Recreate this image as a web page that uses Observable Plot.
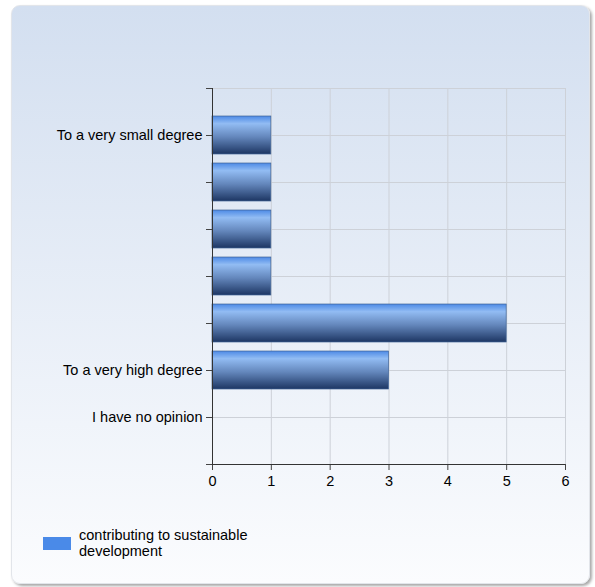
<!DOCTYPE html>
<html><head><meta charset="utf-8">
<script src="https://cdn.jsdelivr.net/npm/d3@7"></script>
<script src="https://cdn.jsdelivr.net/npm/@observablehq/plot@0.6"></script>
<style>
body{margin:0;width:595px;height:587px;overflow:hidden;background:#fff;font-family:"Liberation Sans",Arial,sans-serif;}
#panel{position:absolute;left:11px;top:5px;width:577px;height:577px;border-radius:9px;background:linear-gradient(#d3dff0,#fbfcfe);border:1px solid #e2e5ea;box-shadow:2px 2px 3px rgba(0,0,0,0.35);}
#chart{position:absolute;left:0;top:0;}
#legend{position:absolute;left:43px;top:527px;display:flex;align-items:center;font-size:14.5px;line-height:16px;color:#000;}
#legend .sw{width:28px;height:13px;background:#4a8ae8;margin-right:8px;}
</style></head>
<body>
<div id="panel"></div>
<div id="chart"></div>
<div id="legend"><div class="sw"></div><div id="legtext"></div></div>
<script>
const categories = ["To a very small degree", "", "", "", "", "To a very high degree", "I have no opinion"];
const values = [1, 1, 1, 1, 5, 3, 0];
const xTicks = [0, 1, 2, 3, 4, 5, 6];
const seriesName = ["contributing to sustainable", "development"];

const data = categories.map((c, i) => ({pos: i + 1, label: c, value: values[i]}));
const yTicks = d3.range(0, categories.length + 2);

const chart = Plot.plot({
  width: 595, height: 587,
  marginLeft: 212, marginRight: 30, marginTop: 88, marginBottom: 123,
  style: {background: "transparent", fontFamily: "'Liberation Sans', Arial, sans-serif", fontSize: "14.5px", color: "#000"},
  x: {domain: [0, 6]},
  y: {domain: [0, categories.length + 1], reverse: true},
  marks: [
    Plot.gridX(xTicks, {stroke: "#cdd1d8", strokeOpacity: 1}),
    Plot.gridY(yTicks, {stroke: "#cdd1d8", strokeOpacity: 1}),
    Plot.rect(data.filter(d => d.value > 0), {
      x1: 0, x2: "value",
      y1: d => d.pos - 0.404, y2: d => d.pos + 0.404,
      fill: "url(#barGrad)", stroke: "#3f6396", strokeWidth: 0.7
    }),
    Plot.axisX({ticks: xTicks, tickFormat: d => String(d), tickSize: 6, tickPadding: 5, label: null, stroke: "#444", fill: "#000", fontSize: 14.5}),
    Plot.axisY({ticks: yTicks, tickFormat: d => categories[d - 1] ?? "", tickSize: 6, tickPadding: 4, label: null, stroke: "#444", fill: "#000", fontSize: 14.5}),
    Plot.ruleY([categories.length + 1], {stroke: "#333"}),
    Plot.ruleX([0], {stroke: "#333"})
  ]
});

const svg = d3.select(chart);
const grad = svg.insert("defs", ":first-child").append("linearGradient")
  .attr("id", "barGrad").attr("x1", 0).attr("y1", 0).attr("x2", 0).attr("y2", 1);
[[0, "#4d8ae6"], [0.2, "#92bcf3"], [0.55, "#6487bc"], [1, "#1d3663"]].forEach(([o, c]) =>
  grad.append("stop").attr("offset", o).attr("stop-color", c));

document.getElementById("chart").appendChild(chart);
document.getElementById("legtext").innerHTML = seriesName.join("<br>");
</script>
</body></html>
